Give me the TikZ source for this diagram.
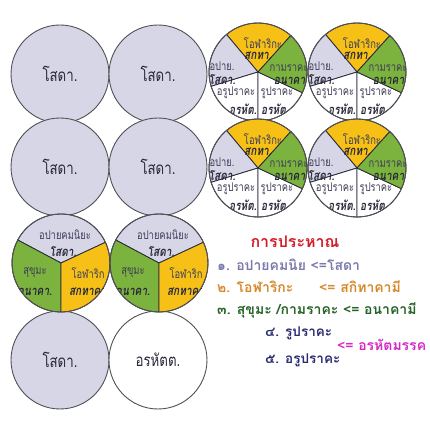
\documentclass[tikz,border=0pt]{standalone}
\usepackage{fontspec}
\usepackage{tikz}
\newfontfamily\thaifont[Script=Thai]{Loma}
\newfontfamily\thaicond[Script=Thai, FakeStretch=0.78]{Loma}
\definecolor{lavender}{RGB}{214,214,230}
\definecolor{gold}{RGB}{246,192,22}
\definecolor{leaf}{RGB}{124,178,62}
\definecolor{rim}{RGB}{80,80,85}
\definecolor{ink}{RGB}{62,62,88}
\definecolor{inkdark}{RGB}{40,40,58}
\definecolor{penred}{RGB}{212,28,40}
\definecolor{penblue}{RGB}{122,122,172}
\definecolor{penorange}{RGB}{214,136,42}
\definecolor{pengreen}{RGB}{38,98,40}
\definecolor{pennavy}{RGB}{42,42,112}
\definecolor{penpink}{RGB}{214,40,200}

\tikzset{
  disc/.style={draw=rim, line width=0.9pt},
  slice/.style={draw=inkdark, line width=0.8pt},
  big/.style={font=\thaicond\fontsize{17}{17}\selectfont, text=inkdark},
  term/.style={font=\thaicond\fontsize{12}{12}\selectfont, text=ink, inner sep=0pt},
  stage/.style={font=\thaicond\bfseries\itshape\fontsize{13}{13}\selectfont, text=inkdark, inner sep=0pt},
  hand/.style={font=\thaifont\bfseries\fontsize{14}{14}\selectfont, anchor=west, inner sep=0pt},
}

\begin{document}
\begin{tikzpicture}[x=1pt,y=1pt]
    \useasboundingbox (0,0) rectangle (430,432);
    % plain circles
    \foreach \cx/\cy/\col/\lbl/\nm in {60/358/lavender/โสดา./sa, 158/358/lavender/โสดา./sb,
        60/265/lavender/โสดา./sc, 158/265/lavender/โสดา./sd,
        60/72/lavender/โสดา./se, 158/72/white/อรหัตต./sf}
    \draw[disc, fill=\col] (\cx,\cy) circle (49) node[big] (\nm) {\lbl};
    % five-part pies
    \foreach \px/\py/\pn in {258/360/pa, 357/360/pb, 258/264/pc, 357/264/pd} {
        \coordinate (\pn) at (\px,\py);
        \foreach \from/\to/\col in {48/130/gold, 130/197/lavender, 197/270/white, 270/335/white, 335/408/leaf}
        \filldraw[slice, fill=\col] (\pn) -- ++(\from:49) arc (\from:\to:49) -- cycle;
        \begin{scope}
        \clip (\pn) circle (49);
        \node[term] (\pn-ot) at (\px+5,\py+29) {โอฬาริกะ};
        \node[stage] (\pn-os) at (\px,\py+16) {สกทา.};
        \node[term] (\pn-at) at (\px-36,\py+6) {อปาย.};
        \node[stage] (\pn-as) at (\px-36,\py-8) {โสดา.};
        \node[term] (\pn-kt) at (\px+31,\py+4) {กามราคะ};
        \node[stage] (\pn-ks) at (\px+33,\py-9) {อนาคา.};
        \node[term] (\pn-ut) at (\px-22,\py-21) {อรูปราคะ};
        \node[stage] (\pn-us) at (\px-15,\py-37) {อรหัต.};
        \node[term] (\pn-rt) at (\px+19,\py-21) {รูปราคะ};
        \node[stage] (\pn-rs) at (\px+17,\py-37) {อรหัต.};
        \end{scope}
        \draw[disc] (\pn) circle (49);
    }
    % three-part pies
    \foreach \px/\py/\pn in {61/169/qa, 159/169/qb} {
        \coordinate (\pn) at (\px,\py);
        \foreach \from/\to/\col in {25/152/lavender, 152/270/leaf, 270/385/gold}
        \filldraw[slice, fill=\col] (\pn) -- ++(\from:49) arc (\from:\to:49) -- cycle;
        \begin{scope}
        \clip (\pn) circle (49);
        \node[term] (\pn-at) at (\px+4,\py+28) {อปายคมนิยะ};
        \node[stage] (\pn-as) at (\px+2,\py+11) {โสดา.};
        \node[term] (\pn-kt) at (\px-26,\py-10) {สุขุมะ};
        \node[stage] (\pn-ks) at (\px-26,\py-29) {อนาคา.};
        \node[term] (\pn-ot) at (\px+27,\py-10) {โอฬาริก};
        \node[stage] (\pn-os) at (\px+28,\py-29) {สกทาคา.};
        \end{scope}
        \draw[disc] (\pn) circle (49);
    }
    % handwritten notes
    \node[hand, anchor=center, text=penred, font=\thaifont\bfseries\fontsize{16}{16}\selectfont] (title) at (295,190) {การประหาณ};
    \node[hand, text=penblue] (n1) at (217,167) {๑. อปายคมนิย <=โสดา};
    \node[hand, text=penorange] (n2) at (217,145) {๒. โอฬาริกะ \quad\enspace <= สกิทาคามี};
    \node[hand, text=pengreen] (n3) at (217,122) {๓. สุขุมะ /กามราคะ <= อนาคามี};
    \node[hand, text=pennavy, font=\thaifont\bfseries\fontsize{13.5}{13.5}\selectfont] (n4) at (265,99) {๔. รูปราคะ};
    \node[hand, text=penpink] (n6) at (337,87) {<= อรหัตมรรค};
    \node[hand, text=pennavy, font=\thaifont\bfseries\fontsize{13.5}{13.5}\selectfont] (n5) at (265,72) {๕. อรูปราคะ};
\end{tikzpicture}
\end{document}
